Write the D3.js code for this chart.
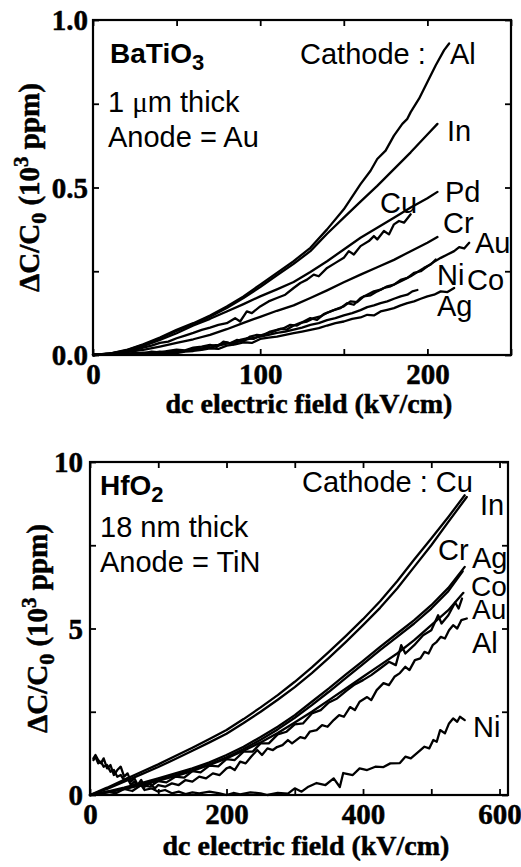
<!DOCTYPE html>
<html><head><meta charset="utf-8">
<script src="https://cdn.jsdelivr.net/npm/d3@7"></script>
<style>body{margin:0;background:#fff}svg{display:block}</style>
</head><body><svg id="c" width="521" height="867"></svg>
<script>
// ---------- Top panel: BaTiO3, 1 um thick, anode Au  (x: kV/cm, y: 10^3 ppm)
const topXTicks = [0, 50, 100, 150, 200, 250];
const topXTickLabels = [0, 100, 200];
const topYTicks = [0, 0.25, 0.5, 0.75, 1.0];
const topYTickLabels = [0, 0.5, 1.0];

const topAl = [[0,0],[10,0.004],[20,0.015],[30,0.032],[40,0.052],[50,0.075],[60,0.095],[70,0.118],[80,0.145],[90,0.175],[100,0.21],[110,0.245],[120,0.28],[130,0.32],[140,0.375],[150,0.435],[160,0.51],[166,0.55],[170,0.585],[175,0.61],[180,0.655],[185,0.69],[188,0.705],[190,0.725],[195,0.765],[200,0.815],[205,0.865],[210,0.91],[213,0.93]];
const topIn = [[0,0],[10,0.004],[20,0.014],[30,0.03],[40,0.05],[50,0.072],[60,0.092],[70,0.114],[80,0.14],[90,0.17],[100,0.203],[110,0.238],[120,0.272],[130,0.31],[140,0.362],[150,0.41],[160,0.458],[170,0.505],[180,0.555],[190,0.605],[200,0.658],[206,0.69]];
const topPd = [[0,0],[10,0.003],[20,0.012],[30,0.026],[40,0.045],[50,0.065],[60,0.088],[70,0.108],[80,0.13],[90,0.152],[100,0.175],[110,0.196],[120,0.218],[130,0.248],[140,0.28],[150,0.315],[160,0.35],[170,0.38],[180,0.41],[190,0.44],[200,0.468],[206,0.487]];
const topCu = [[0,0],[5,0.002],[10,0.004],[15,0.006],[20,0.012],[25,0.015],[30,0.022],[35,0.028],[40,0.036],[45,0.04],[50,0.05],[55,0.058],[60,0.066],[65,0.075],[70,0.082],[75,0.09],[80,0.095],[85,0.11],[88,0.1],[92,0.13],[95,0.125],[100,0.145],[105,0.16],[110,0.17],[115,0.18],[120,0.2],[124,0.215],[128,0.225],[132,0.24],[135,0.235],[140,0.26],[145,0.275],[150,0.29],[153,0.31],[156,0.3],[160,0.325],[165,0.34],[168,0.355],[170,0.345],[174,0.37],[177,0.36],[180,0.39],[183,0.4],[186,0.395],[190,0.42]];
const topCr = [[0,0],[10,0.005],[20,0.009],[30,0.015],[40,0.025],[50,0.036],[60,0.047],[70,0.06],[80,0.077],[90,0.096],[100,0.114],[110,0.132],[120,0.148],[130,0.17],[140,0.193],[150,0.217],[160,0.24],[170,0.262],[180,0.284],[190,0.31],[200,0.335],[206,0.352]];
const topAu = [[0,0],[5,0.001],[10,0.003],[15,0.002],[20,0.005],[25,0.004],[30,0.007],[35,0.006],[40,0.01],[45,0.008],[50,0.014],[55,0.012],[60,0.02],[65,0.018],[70,0.028],[75,0.03],[80,0.038],[84,0.032],[88,0.045],[92,0.05],[96,0.048],[100,0.058],[104,0.065],[108,0.07],[112,0.078],[116,0.076],[120,0.088],[124,0.096],[128,0.1],[132,0.11],[136,0.115],[140,0.126],[144,0.134],[148,0.14],[152,0.155],[156,0.15],[160,0.17],[164,0.18],[168,0.19],[172,0.195],[176,0.205],[180,0.21],[184,0.224],[188,0.23],[192,0.245],[196,0.25],[200,0.265],[204,0.278],[208,0.29],[212,0.3],[216,0.31],[219,0.322],[222,0.318],[225,0.335]];
const topNi = [[0,0],[5,0.002],[10,0.001],[15,0.004],[20,0.003],[25,0.006],[30,0.005],[35,0.01],[40,0.008],[45,0.012],[50,0.016],[55,0.014],[60,0.022],[65,0.025],[70,0.03],[74,0.024],[78,0.04],[82,0.035],[86,0.045],[90,0.042],[94,0.055],[98,0.06],[102,0.058],[106,0.07],[110,0.075],[114,0.08],[118,0.09],[122,0.088],[126,0.1],[130,0.11],[134,0.105],[138,0.122],[142,0.13],[146,0.138],[150,0.145],[154,0.16],[158,0.158],[162,0.175],[166,0.178],[170,0.19],[174,0.2],[178,0.205],[182,0.215],[186,0.225],[190,0.235],[194,0.248],[198,0.26],[202,0.27],[205,0.285]];
const topCo = [[0,0],[5,0.001],[10,0.002],[15,0.001],[20,0.003],[25,0.002],[30,0.004],[35,0.003],[40,0.005],[45,0.007],[50,0.006],[55,0.01],[60,0.012],[65,0.015],[70,0.02],[75,0.018],[80,0.028],[85,0.032],[90,0.038],[95,0.036],[100,0.048],[105,0.052],[110,0.055],[115,0.06],[120,0.065],[125,0.07],[130,0.075],[135,0.08],[140,0.088],[145,0.095],[150,0.1],[155,0.108],[160,0.112],[164,0.12],[168,0.118],[172,0.13],[176,0.135],[180,0.14],[184,0.148],[188,0.155],[192,0.16],[196,0.168],[200,0.175],[204,0.18],[208,0.19],[212,0.188],[216,0.2]];
const topAg = [[0,0],[5,0.002],[10,0.001],[15,0.003],[20,0.002],[25,0.004],[30,0.003],[35,0.005],[40,0.007],[45,0.006],[50,0.01],[55,0.012],[60,0.016],[65,0.02],[70,0.022],[75,0.028],[80,0.034],[85,0.038],[90,0.044],[95,0.05],[100,0.055],[105,0.06],[110,0.066],[115,0.07],[120,0.076],[125,0.082],[130,0.09],[135,0.095],[140,0.104],[145,0.11],[150,0.118],[155,0.125],[160,0.134],[164,0.143],[168,0.148],[172,0.155],[176,0.16],[180,0.168],[184,0.175],[188,0.18],[191,0.19],[194,0.194]];

// ---------- Bottom panel: HfO2, 18 nm thick, anode TiN
const botXTicks = [0, 100, 200, 300, 400, 500, 600];
const botXTickLabels = [0, 200, 400, 600];
const botYTicks = [0, 2.5, 5, 7.5, 10];
const botYTickLabels = [0, 5, 10];

const botCu = [[0,0],[25,0.22],[50,0.46],[75,0.69],[100,0.92],[125,1.17],[150,1.42],[175,1.68],[200,1.95],[225,2.28],[250,2.63],[275,3.0],[300,3.4],[325,3.83],[350,4.3],[375,4.78],[400,5.28],[425,5.82],[450,6.42],[475,7.07],[500,7.7],[525,8.35],[549,9.0]];
const botIn = [[0,0],[25,0.18],[50,0.4],[75,0.62],[100,0.84],[125,1.08],[150,1.33],[175,1.58],[200,1.84],[225,2.16],[250,2.5],[275,2.86],[300,3.24],[325,3.66],[350,4.12],[375,4.6],[400,5.1],[425,5.62],[450,6.2],[475,6.85],[500,7.5],[525,8.2],[552,8.95]];
const botCr = [[0,0],[25,0.1],[50,0.22],[75,0.36],[100,0.5],[125,0.65],[150,0.8],[175,0.98],[200,1.2],[225,1.45],[250,1.74],[275,2.05],[300,2.4],[325,2.8],[350,3.2],[375,3.62],[400,4.03],[425,4.45],[450,4.85],[475,5.25],[500,5.7],[525,6.22],[549,6.85]];
const botAg = [[0,0],[25,0.08],[50,0.19],[75,0.32],[100,0.45],[125,0.6],[150,0.75],[175,0.92],[200,1.13],[225,1.38],[250,1.66],[275,1.97],[300,2.32],[325,2.7],[350,3.1],[375,3.52],[400,3.93],[425,4.35],[450,4.75],[475,5.15],[500,5.6],[525,6.12],[546,6.72]];
const botCo = [[0,0],[25,0.08],[50,0.18],[75,0.3],[100,0.43],[125,0.57],[150,0.72],[175,0.9],[200,1.1],[225,1.33],[250,1.58],[275,1.86],[300,2.18],[325,2.5],[350,2.85],[375,3.2],[400,3.55],[425,3.9],[450,4.25],[475,4.65],[500,5.1],[525,5.55],[547,6.07]];
const botAu = [[0,0],[12,0.02],[25,0.1],[38,0.05],[50,0.18],[62,0.12],[75,0.3],[88,0.25],[100,0.42],[112,0.38],[125,0.55],[138,0.52],[150,0.72],[162,0.68],[175,0.88],[188,0.86],[200,1.08],[212,1.05],[225,1.3],[238,1.3],[250,1.55],[262,1.55],[275,1.82],[288,1.9],[300,2.12],[312,2.15],[325,2.45],[338,2.55],[350,2.78],[362,2.9],[375,3.12],[388,3.32],[400,3.45],[412,3.6],[425,3.8],[438,4.0],[448,3.9],[456,4.5],[462,4.25],[475,4.5],[488,4.8],[500,4.95],[510,5.4],[515,5.15],[525,5.4],[535,5.78],[540,5.6],[545,5.9]];
const botAl = [[5,1.1],[8,1.2],[12,1.05],[16,0.95],[20,1.1],[25,0.8],[30,0.9],[35,0.6],[40,0.75],[45,0.85],[50,0.55],[55,0.65],[60,0.4],[65,0.5],[70,0.3],[75,0.45],[80,0.25],[88,0.35],[95,0.2],[100,0.3],[110,0.25],[120,0.35],[130,0.3],[140,0.45],[150,0.4],[160,0.55],[170,0.5],[180,0.65],[190,0.6],[200,0.8],[205,0.84],[212,0.75],[220,1.0],[228,0.95],[236,1.15],[245,1.35],[252,1.2],[260,1.4],[268,1.35],[274,1.44],[282,1.5],[290,1.65],[296,1.55],[308,1.74],[315,1.7],[322,1.9],[332,1.95],[340,2.1],[348,2.05],[357,2.25],[365,2.4],[372,2.35],[381,2.64],[388,2.55],[395,2.8],[406,2.94],[412,2.85],[420,3.15],[430,3.36],[438,3.3],[446,3.55],[454,3.66],[462,3.85],[468,3.75],[476,4.05],[484,4.1],[490,4.3],[496,4.25],[502,4.5],[508,4.6],[514,4.75],[520,4.7],[526,4.95],[532,5.1],[538,5.0],[544,5.25],[552,5.3]];
const botNi = [[5,1.05],[8,1.15],[12,0.95],[16,1.0],[20,0.85],[25,0.9],[30,0.7],[35,0.75],[40,0.55],[45,0.6],[50,0.45],[55,0.5],[60,0.3],[65,0.4],[70,0.25],[75,0.3],[80,0.15],[90,0.2],[100,0.1],[110,0.15],[120,0.05],[130,0.1],[140,0.03],[150,0.08],[160,0.05],[175,0.1],[190,0.05],[200,0.0],[210,0.06],[220,0.02],[235,0.08],[250,0.05],[260,0.0],[275,0.06],[290,0.04],[300,0.2],[310,0.1],[320,0.25],[332,0.36],[345,0.3],[357,0.5],[366,0.24],[371,0.66],[385,0.6],[395,0.8],[406,0.75],[418,0.85],[430,0.84],[440,0.95],[454,0.96],[462,1.15],[470,1.1],[479,1.26],[490,1.45],[497,1.4],[503,1.65],[508,1.6],[513,1.95],[520,1.85],[526,2.15],[532,2.3],[538,2.2],[542,2.35],[549,2.25]];

// ---------- drawing
const svg = d3.select("#c");
const serif = "'Liberation Serif','Times New Roman',Times,serif";
const sans = "'Liberation Sans',Arial,Helvetica,sans-serif";

function heavy(sel) {
  return sel.attr("font-family", serif).attr("font-weight", "bold")
    .attr("fill", "#000").attr("stroke", "#000").attr("stroke-width", 0.5);
}

function panel(cfg) {
  const x = d3.scaleLinear().domain(cfg.xDomain).range([cfg.x0, cfg.x1]);
  const y = d3.scaleLinear().domain(cfg.yDomain).range([cfg.y1, cfg.y0]);
  const g = svg.append("g");
  const line = d3.line().x(d => x(d[0])).y(d => y(d[1]));
  g.selectAll("path.curve").data(cfg.series).join("path")
    .attr("class", "curve").attr("d", line)
    .attr("fill", "none").attr("stroke", "#000").attr("stroke-width", 2.3)
    .attr("stroke-linejoin", "round").attr("stroke-linecap", "round");

  // inward ticks on all four sides
  const tk = 6;
  const axes = [
    [d3.axisBottom(x).tickValues(cfg.xTicks), `translate(0,${cfg.y1})`],
    [d3.axisTop(x).tickValues(cfg.xTicks), `translate(0,${cfg.y0})`],
    [d3.axisLeft(y).tickValues(cfg.yTicks), `translate(${cfg.x0},0)`],
    [d3.axisRight(y).tickValues(cfg.yTicks), `translate(${cfg.x1},0)`]
  ];
  axes.forEach(([ax, tr]) => {
    const a = g.append("g").attr("transform", tr)
      .call(ax.tickSize(-tk).tickFormat(""));
    a.select(".domain").remove();
    a.selectAll("line").attr("stroke", "#000").attr("stroke-width", 1.8);
  });
  g.append("rect").attr("x", cfg.x0).attr("y", cfg.y0)
    .attr("width", cfg.x1 - cfg.x0).attr("height", cfg.y1 - cfg.y0)
    .attr("fill", "none").attr("stroke", "#000").attr("stroke-width", 2.2);

  // tick labels
  const xl = g.append("g").attr("transform", `translate(0,${cfg.y1})`)
    .call(d3.axisBottom(x).tickValues(cfg.xLabels).tickSize(0).tickPadding(cfg.xPad).tickFormat(cfg.xFmt));
  xl.select(".domain").remove();
  const yl = g.append("g").attr("transform", `translate(${cfg.x0},0)`)
    .call(d3.axisLeft(y).tickValues(cfg.yLabels).tickSize(0).tickPadding(cfg.yPad).tickFormat(cfg.yFmt));
  yl.select(".domain").remove();
  [xl, yl].forEach(a => heavy(a.selectAll("text")).attr("font-size", 29));
  yl.selectAll("text").attr("dy", "0.34em");

  // x title
  heavy(g.append("text")).attr("x", (cfg.x0 + cfg.x1) / 2 + 7).attr("y", cfg.xTitleY)
    .attr("text-anchor", "middle").attr("font-size", 28).text("dc electric field (kV/cm)");

  // y title
  const yt = heavy(g.append("text"))
    .attr("transform", `translate(${cfg.yTitleX},${(cfg.y0 + cfg.y1) / 2}) rotate(-90)`)
    .attr("text-anchor", "middle").attr("font-size", 29);
  yt.append("tspan").text("\u0394C/C");
  yt.append("tspan").attr("font-size", 22).attr("dy", 7).text("0");
  yt.append("tspan").attr("dy", -7).text(" (10");
  yt.append("tspan").attr("font-size", 21).attr("dy", -11).text("3");
  yt.append("tspan").attr("dy", 11).text(" ppm)");

  // annotations
  const tl = g.append("text").attr("x", cfg.titleX).attr("y", cfg.titleY)
    .attr("font-family", sans).attr("font-weight", "bold").attr("font-size", 28);
  tl.append("tspan").text(cfg.title);
  tl.append("tspan").attr("font-size", 22).attr("dy", 7).text(cfg.titleSub);

  cfg.notes.forEach(n => {
    const t = g.append("text").attr("x", n[1]).attr("y", n[2])
      .attr("font-family", sans).attr("font-size", n[3] || 29).attr("fill", "#000");
    if (n[0].includes("\u03bc")) {
      const parts = n[0].split("\u03bc");
      t.append("tspan").text(parts[0]);
      t.append("tspan").attr("font-family", serif).text("\u03bc");
      t.append("tspan").text(parts[1]);
    } else t.text(n[0]);
  });
}

panel({
  x0: 93, x1: 511, y0: 20, y1: 355,
  xDomain: [0, 250], yDomain: [0, 1],
  xTicks: topXTicks, yTicks: topYTicks,
  xLabels: topXTickLabels, yLabels: topYTickLabels,
  xFmt: d3.format("d"), yFmt: d3.format(".1f"),
  xPad: 8, yPad: 5,
  xTitleY: 413, yTitleX: 39,
  series: [topAl, topIn, topPd, topCu, topCr, topAu, topNi, topCo, topAg],
  title: "BaTiO", titleSub: "3", titleX: 110, titleY: 63,
  notes: [["1 \u03bcm thick", 108, 112], ["Anode = Au", 108, 147], ["Cathode :", 300, 64],
    ["Al", 450, 64], ["In", 447, 141], ["Pd", 445, 202], ["Cu", 380, 213], ["Cr", 443, 233],
    ["Au", 475, 253], ["Ni", 437, 285], ["Co", 467, 290], ["Ag", 437, 316]]
});

panel({
  x0: 90, x1: 508, y0: 462, y1: 795,
  xDomain: [0, 612.4], yDomain: [0, 10],
  xTicks: botXTicks, yTicks: botYTicks,
  xLabels: botXTickLabels, yLabels: botYTickLabels,
  xFmt: d3.format("d"), yFmt: d3.format("d"),
  xPad: 8, yPad: 7,
  xTitleY: 855, yTitleX: 47,
  series: [botCu, botIn, botCr, botAg, botCo, botAu, botAl, botNi],
  title: "HfO", titleSub: "2", titleX: 100, titleY: 495,
  notes: [["18 nm thick", 100, 537], ["Anode = TiN", 100, 572], ["Cathode : Cu", 302, 492],
    ["In", 480, 515], ["Cr", 438, 560], ["Ag", 472, 568], ["Co", 471, 596, 28],
    ["Au", 472, 619, 28], ["Al", 472, 653], ["Ni", 473, 737]]
});
</script>
</body></html>
